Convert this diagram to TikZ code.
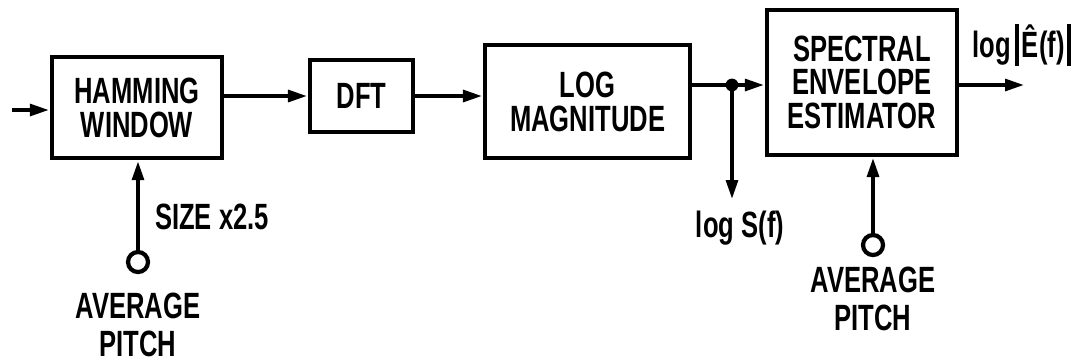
\documentclass[tikz,border=0pt]{standalone}
\usepackage{fontspec}
\newfontfamily\blockfont{Liberation Sans}[FakeStretch=0.7]
\usepackage{tikz}
\usetikzlibrary{arrows.meta,positioning}

\begin{document}
\begin{tikzpicture}[every node/.style={font=\blockfont\bfseries\fontsize{26}{24}\selectfont}, blk/.style={draw, line width=3pt, align=center, inner sep=0pt}, arr/.style={-{Triangle[length=5mm,width=2.8mm]}, line width=3.4pt}, wire/.style={line width=3.4pt}, pin/.style={draw, circle, line width=3pt, minimum size=0.5cm, inner sep=0pt}]
\useasboundingbox (0,0) rectangle (27,-9.05);
% blocks
\node[blk, minimum width=4.25cm, minimum height=2.525cm] (ham) at (3.425,-2.69) {HAMMING\\WINDOW};
\node[blk, minimum width=2.575cm, minimum height=1.8cm] (dft) at (9.04,-2.4) {DFT};
\node[blk, minimum width=5.125cm, minimum height=2.825cm] (logm) at (14.69,-2.54) {LOG\\MAGNITUDE};
\node[blk, minimum width=4.75cm, minimum height=3.625cm] (spec) at (21.55,-2.06) {SPECTRAL\\ENVELOPE\\ESTIMATOR};
% free ends
\coordinate (in) at (0.3,-2.75);
\coordinate (jn) at (18.3,-2.125);
\coordinate (sout) at (18.3,-5.0);
\coordinate (out) at (25.625,-2.125);
\node[pin] (p1) at (3.45,-6.55) {};
\node[pin] (p2) at (21.825,-6.125) {};
% signal path
\draw[arr] (in) -- (in -| ham.west);
\draw[arr] (ham.east |- dft.west) -- (dft.west);
\draw[arr] (dft.east) -- (dft.east -| logm.west);
\draw[wire] (logm.east |- jn) -- (jn);
\draw[arr] (jn) -- (jn -| spec.west);
\fill (jn) circle (0.16);
\draw[arr] (jn) -- (sout);
\draw[arr] (spec.east |- jn) -- (out);
\draw[arr] (p1) -- (p1 |- ham.south);
\draw[arr] (p2) -- (p2 |- spec.south);
% labels
\node (lsf) at (18.5,-5.7) {log S(f)};
\node (lef) at (25.55,-1.125) {log\hspace{3pt}\rule[-6pt]{2.8pt}{30pt}\hspace{2pt}Ê(f)\hspace{2pt}\rule[-6pt]{2.8pt}{30pt}};
\node (size) at (5.3,-5.425) {SIZE x2.5};
\node[align=center] (ap1) at (3.45,-8.12) {AVERAGE\\[3pt]PITCH};
\node[align=center] (ap2) at (21.825,-7.475) {AVERAGE\\[3pt]PITCH};
\end{tikzpicture}
\end{document}
